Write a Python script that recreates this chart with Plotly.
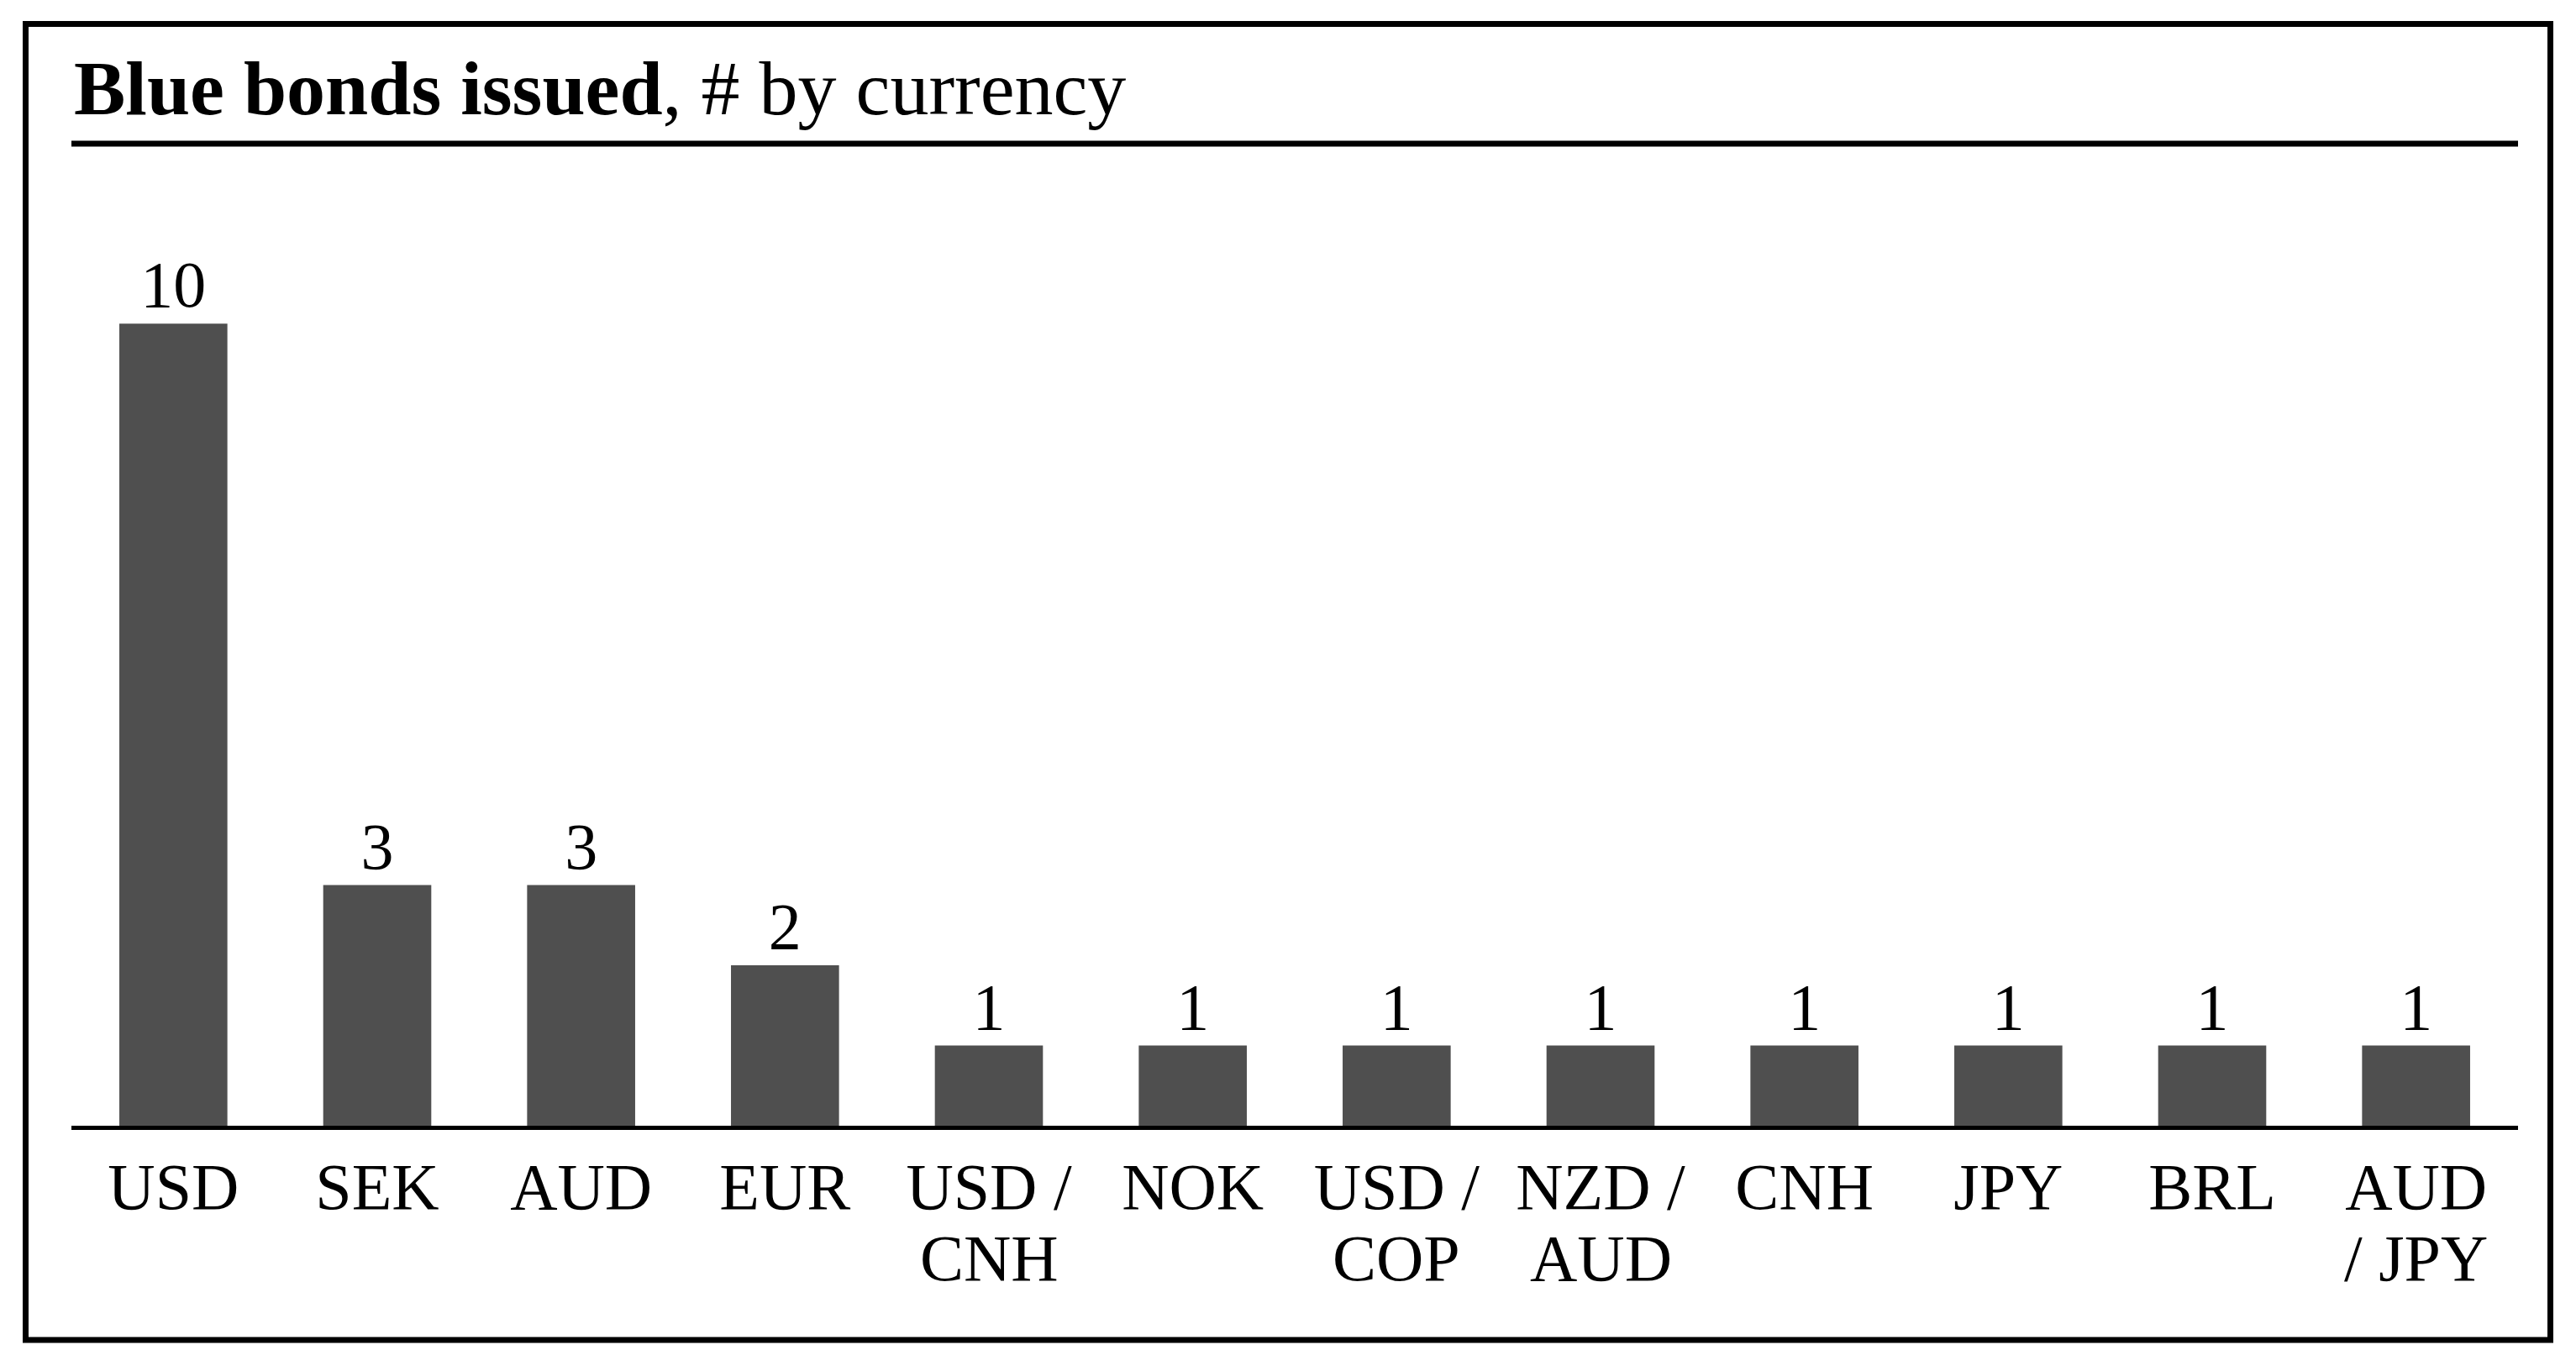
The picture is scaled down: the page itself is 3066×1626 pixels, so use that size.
import plotly.graph_objects as go

line1 = ["USD", "SEK", "AUD", "EUR", "USD /", "NOK", "USD /",
         "NZD /", "CNH", "JPY", "BRL", "AUD"]
line2 = ["", "", "", "", "CNH", "", "COP", "AUD", "", "", "", "/ JPY"]
counts = [10, 3, 3, 2, 1, 1, 1, 1, 1, 1, 1, 1]

# page offset (default body margin of the html page)
OX, OY = 8, 8
W, H = 3050, 1610
L = 85 - OX
T = 202 - OY
R_ = W - (2997 - OX)
B = H - (1340 - OY)
pw, ph = W - L - R_, H - T - B


def px(x):
    return (x - OX - L) / pw


def py(y):
    return (H - B - (y - OY)) / ph


FONT = "Liberation Serif"
idx = list(range(len(line1)))

fig = go.Figure(go.Bar(
    x=idx,
    y=counts,
    marker=dict(color="#4f4f4f", line=dict(width=0)),
    text=[str(c) for c in counts],
    textposition="outside",
    textfont=dict(family=FONT, size=78, color="black"),
    cliponaxis=False,
    width=0.53,
))

annotations = [
    dict(xref="paper", yref="paper", x=px(86), y=py(158),
         xanchor="left", yanchor="bottom", showarrow=False,
         text="<b>Blue bonds issued</b>, # by currency",
         font=dict(family=FONT, size=92, color="black")),
]
for i, t in zip(idx, line2):
    if t:
        annotations.append(dict(
            x=i, xref="x", y=0, yref="paper", yanchor="top", xanchor="center",
            yshift=-112, showarrow=False, text=t,
            font=dict(family=FONT, size=78, color="black")))

fig.update_layout(
    width=W, height=H,
    margin=dict(l=L, r=R_, t=T, b=B),
    paper_bgcolor="white", plot_bgcolor="white",
    showlegend=False,
    font=dict(family=FONT, color="black"),
    xaxis=dict(
        tickmode="array", tickvals=idx, ticktext=line1,
        range=[-0.5, len(idx) - 0.5],
        showline=True, linecolor="black", linewidth=5,
        showgrid=False, zeroline=False, ticks="",
        tickfont=dict(family=FONT, size=78, color="black"),
    ),
    yaxis=dict(range=[0, 11.92], visible=False, showgrid=False, zeroline=False),
    shapes=[
        dict(type="rect", xref="paper", yref="paper",
             x0=px(30.5), x1=px(3035.5), y0=py(1595), y1=py(28.5),
             line=dict(color="black", width=7), fillcolor="rgba(0,0,0,0)", layer="above"),
        dict(type="line", xref="paper", yref="paper",
             x0=0, x1=1, y0=py(171), y1=py(171),
             line=dict(color="black", width=7)),
    ],
    annotations=annotations,
)

fig.write_html("out.html")
